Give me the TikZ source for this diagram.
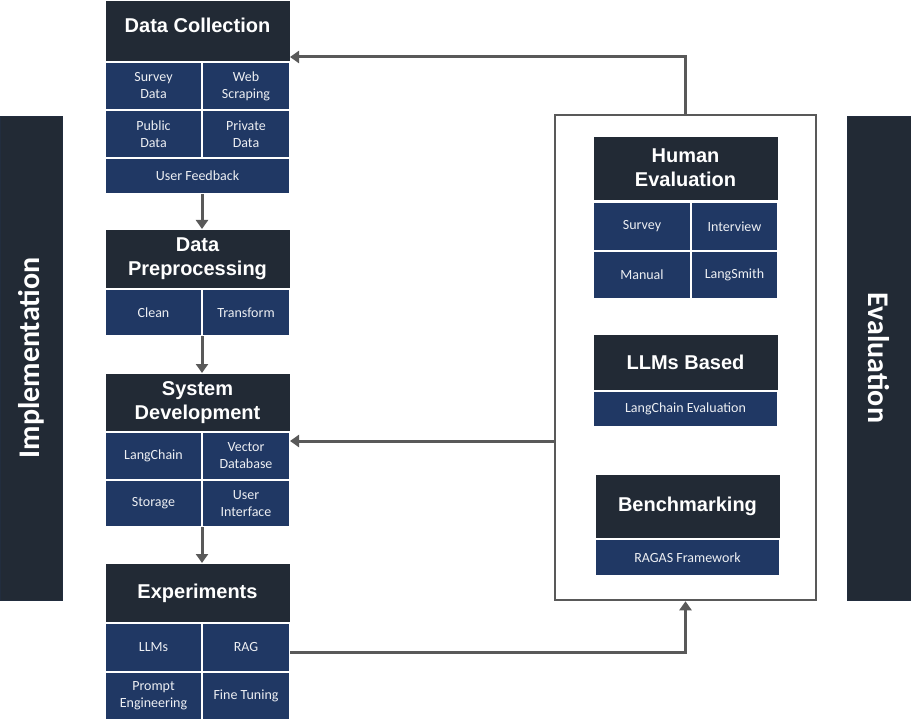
\documentclass[tikz,border=0pt]{standalone}
\usepackage{fontspec}
\usetikzlibrary{arrows.meta,calc}
\newfontfamily\HdrFam{Liberation Sans}
\newfontfamily\CellFam{Carlito}
\definecolor{hdrc}{HTML}{222A35}
\definecolor{cellc}{HTML}{203864}
\definecolor{arrc}{HTML}{595959}
\tikzset{
  hdr/.style={fill=hdrc, draw=white, line width=0.8pt, text=white, align=center,
    inner sep=0pt, outer sep=0pt, font=\HdrFam\bfseries\fontsize{20}{24}\selectfont},
  cell/.style={fill=cellc, draw=white, line width=1.2pt, text=white!92!cellc, align=center,
    inner sep=0pt, outer sep=0pt, font=\CellFam\fontsize{14}{17}\selectfont},
  sidebar/.style={fill=hdrc, draw=hdrc!80!cellc, line width=0.6pt, inner sep=0pt, outer sep=0pt},
  sidetext/.style={text=white, font=\CellFam\bfseries\fontsize{30}{34}\selectfont},
  arr/.style={draw=arrc, line width=3pt, -{Triangle[length=9pt,width=12pt]}},
  wh/.style 2 args={minimum width=#1pt, minimum height=#2pt}
}
\begin{document}
\begin{tikzpicture}[x=1pt,y=-1pt]
\useasboundingbox (0,0) rectangle (911,722);
% side bars
\node[sidebar, wh={62}{484}] (impl) at (31,358) {};
\node[sidetext, rotate=90] (impltxt) at (impl.center) {Implementation};
\node[sidebar, wh={64}{484}] (evalbar) at (879,358) {};
\node[sidetext, rotate=-90] (evaltxt) at (evalbar.center) {Evaluation};
% Data Collection
\node[hdr, wh={185}{61}] (dch) at (197.5,30.5) {};
\node[text=white, font=\HdrFam\bfseries\fontsize{20}{24}\selectfont] (dchtxt) at (197.5,25) {Data Collection};
\node[cell, wh={97}{48}] (dcsur) at (153.5,86) {Survey\\Data};
\node[cell, wh={88}{48}] (dcweb) at (246,86) {Web\\Scraping};
\node[cell, wh={97}{48}] (dcpub) at (153.5,134) {Public\\Data};
\node[cell, wh={88}{48}] (dcpri) at (246,134) {Private\\Data};
\node[cell, wh={185}{36}] (dcuf) at (197.5,176) {User Feedback};
% Data Preprocessing
\node[hdr, wh={185}{60}] (dph) at (197.5,259) {Data\\Preprocessing};
\node[cell, wh={97}{47}] (dpcl) at (153.5,312.5) {Clean};
\node[cell, wh={88}{47}] (dptr) at (246,312.5) {Transform};
% System Development
\node[hdr, wh={185}{59}] (sdh) at (197.5,402.5) {System\\Development};
\node[cell, wh={97}{48}] (sdlc) at (153.5,456) {LangChain};
\node[cell, wh={88}{48}] (sdvec) at (246,456) {Vector\\Database};
\node[cell, wh={97}{47}] (sdst) at (153.5,503.5) {Storage};
\node[cell, wh={88}{47}] (sdui) at (246,503.5) {User\\Interface};
% Experiments
\node[hdr, wh={185}{60}] (exh) at (197.5,593) {Experiments};
\node[cell, wh={97}{49}] (exllm) at (153.5,647.5) {LLMs};
\node[cell, wh={88}{49}] (exrag) at (246,647.5) {RAG};
\node[cell, wh={97}{48}] (expe) at (153.5,696) {Prompt\\Engineering};
\node[cell, wh={88}{48}] (exft) at (246,696) {Fine Tuning};
% Evaluation box
\node[draw=arrc, line width=2.5pt, wh={261}{485}, inner sep=0pt] (evalbox) at (685.5,357.5) {};
% Human Evaluation
\node[hdr, wh={185}{64}] (heh) at (685.5,168) {Human\\Evaluation};
\node[cell, wh={98}{49}] (hesu) at (642,226.5) {Survey};
\node[cell, wh={87}{49}] (hein) at (734.5,226.5) {Interview};
\node[cell, wh={98}{48}] (hema) at (642,275) {Manual};
\node[cell, wh={87}{48}] (hels) at (734.5,275) {LangSmith};
% LLMs Based
\node[hdr, wh={185}{57}] (lbh) at (685.5,362.5) {LLMs Based};
\node[cell, wh={185}{36}] (lbce) at (685.5,409) {LangChain Evaluation};
% Benchmarking
\node[hdr, wh={185}{65}] (bmh) at (687.5,506.5) {Benchmarking};
\node[cell, wh={185}{37}] (bmrf) at (687.5,557.5) {RAGAS Framework};
% arrows
\draw[arr] (dcuf.south -| dcweb.west) -- (dph.north -| dcweb.west);
\draw[arr] (dptr.south west) -- (sdh.north -| dptr.south west);
\draw[arr] (sdui.south west) -- (exh.north -| sdui.south west);
\draw[arr] (evalbox.north) |- ([yshift=4pt]dch.south east);
\coordinate (fbpt) at (555,441);
\draw[arr] (fbpt) -- (fbpt -| sdvec.east);
\draw[arr] ([yshift=-5pt]exrag.east) -| (evalbox.south);
\end{tikzpicture}
\end{document}
